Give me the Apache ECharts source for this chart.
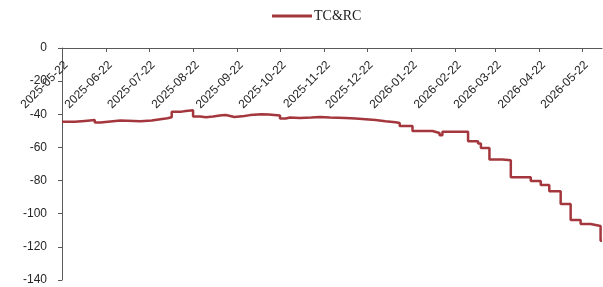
<!DOCTYPE html>
<html>
<head>
<meta charset="utf-8">
<script src="https://cdn.jsdelivr.net/npm/echarts@6/dist/echarts.min.js"></script>
<style>
  html, body { margin: 0; padding: 0; background: #fff; }
  #chart { width: 603px; height: 287px; }
</style>
</head>
<body>
<div id="chart"></div>
<script>
// change points of the step line (value holds until next date)
var dates = [
    '2025-05-22', '2025-05-31', '2025-06-07', '2025-06-14', '2025-06-18', '2025-06-25',
    '2025-07-02', '2025-07-16', '2025-07-24', '2025-07-30', '2025-08-04', '2025-08-07',
    '2025-08-14', '2025-08-17', '2025-08-22', '2025-08-27', '2025-08-31', '2025-09-05',
    '2025-09-11', '2025-09-14', '2025-09-20', '2025-09-27', '2025-10-01', '2025-10-09',
    '2025-10-14', '2025-10-22', '2025-10-26', '2025-10-29', '2025-11-05', '2025-11-13',
    '2025-11-19', '2025-11-26', '2025-12-07', '2025-12-14', '2025-12-21', '2025-12-28',
    '2026-01-04', '2026-01-11', '2026-01-14', '2026-01-23', '2026-02-06', '2026-02-11',
    '2026-02-13', '2026-03-03', '2026-03-10', '2026-03-12', '2026-03-18', '2026-03-27',
    '2026-04-02', '2026-04-16', '2026-04-23', '2026-04-29', '2026-05-07', '2026-05-14',
    '2026-05-21', '2026-05-28', '2026-06-04', '2026-06-05'
];
var values = [
    -44.5, -44.0, -43.5, -45.0, -44.3, -43.8,
    -44.2, -43.8, -43.0, -42.4, -41.8, -38.4,
    -38.0, -37.6, -41.4, -41.8, -41.3, -40.6,
    -40.4, -41.6, -41.0, -40.5, -40.0, -40.2,
    -40.8, -42.5, -41.9, -42.3, -42.0, -41.6,
    -42.0, -42.3, -42.6, -43.0, -43.5, -44.2,
    -44.8, -45.3, -47.1, -50.1, -51.3, -52.6,
    -50.6, -56.3, -57.7, -60.4, -67.3, -67.8,
    -78.0, -80.3, -82.7, -86.5, -94.1, -103.8,
    -106.2, -107.4, -116.3, -116.3
];
var tickDates = [
    '2025-05-22', '2025-06-22', '2025-07-22', '2025-08-22', '2025-09-22', '2025-10-22',
    '2025-11-22', '2025-12-22', '2026-01-22', '2026-02-22', '2026-03-22', '2026-04-22',
    '2026-05-22'
];
var xStart = '2025-05-22', xEnd = '2026-06-05';

function ts(s) {
    var p = s.split('-');
    return Date.UTC(+p[0], +p[1] - 1, +p[2]);
}
function fmt(v) {
    var d = new Date(v);
    var m = d.getUTCMonth() + 1, day = d.getUTCDate();
    return d.getUTCFullYear() + '-' + (m < 10 ? '0' + m : m) + '-' + (day < 10 ? '0' + day : day);
}

var lineColor = '#A4373D';
var axisColor = '#595959';
var chart = echarts.init(document.getElementById('chart'));

var option = {
    animation: false,
    backgroundColor: '#fff',
    legend: {
        top: 4,
        left: 267,
        itemWidth: 40,
        itemHeight: 3,
        itemGap: 2,
        icon: 'rect',
        textStyle: {
            fontFamily: 'Liberation Serif',
            fontSize: 14,
            color: '#222',
            padding: [0, 0, 0, -3]
        },
        data: ['TC&RC']
    },
    grid: {
        left: 62,
        right: 1,
        top: 48,
        bottom: 7,
        containLabel: false,
        outerBoundsMode: 'none'
    },
    xAxis: {
        type: 'value',
        position: 'top',
        min: ts(xStart),
        max: ts(xEnd),
        axisLine: { onZero: false, lineStyle: { color: axisColor, width: 1 } },
        axisTick: {
            show: true,
            inside: true,
            length: 4,
            customValues: tickDates.map(ts),
            lineStyle: { color: axisColor }
        },
        axisLabel: {
            inside: true,
            rotate: -45,
            margin: 11,
            align: 'right',
            verticalAlign: 'top',
            customValues: tickDates.map(ts),
            formatter: function (v) { return fmt(v); },
            fontFamily: 'Liberation Sans',
            fontSize: 12,
            color: '#262626'
        },
        splitLine: { show: false }
    },
    yAxis: {
        type: 'value',
        min: -140,
        max: 0,
        interval: 20,
        axisLine: { show: true, lineStyle: { color: axisColor, width: 1 } },
        axisTick: { show: true, length: 4, lineStyle: { color: axisColor } },
        axisLabel: {
            margin: 15,
            fontFamily: 'Liberation Sans',
            fontSize: 12,
            color: '#262626'
        },
        splitLine: { show: false }
    },
    series: [{
        name: 'TC&RC',
        type: 'line',
        step: 'end',
        symbol: 'none',
        color: lineColor,
        lineStyle: { color: lineColor, width: 2.5 },
        data: dates.map(function (d, i) { return [ts(d), values[i]]; })
    }]
};

chart.setOption(option);
</script>
</body>
</html>
